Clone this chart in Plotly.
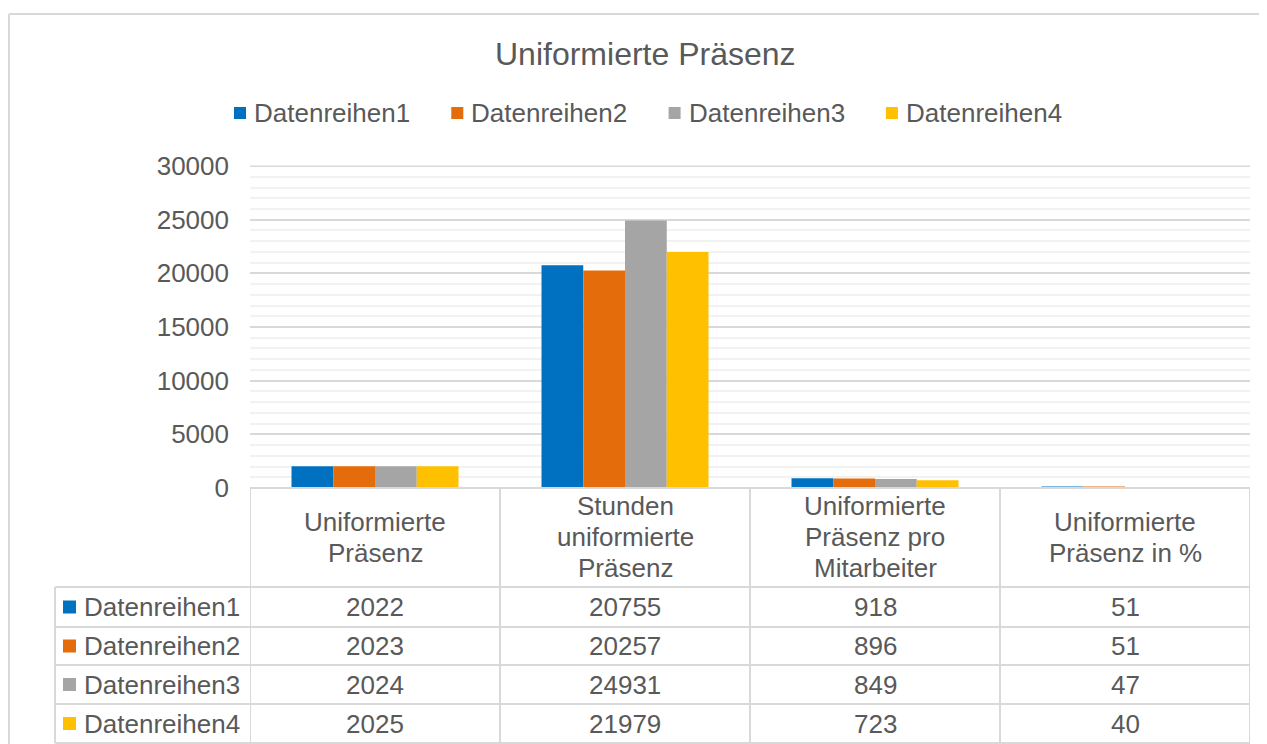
import plotly.graph_objects as go

# chart data
categories = [
    "Uniformierte Präsenz",
    "Stunden uniformierte Präsenz",
    "Uniformierte Präsenz pro Mitarbeiter",
    "Uniformierte Präsenz in %",
]
header_lines = [
    ["Uniformierte", "Präsenz"],
    ["Stunden", "uniformierte", "Präsenz"],
    ["Uniformierte", "Präsenz pro", "Mitarbeiter"],
    ["Uniformierte", "Präsenz in %"],
]
series_names = ["Datenreihen1", "Datenreihen2", "Datenreihen3", "Datenreihen4"]
reihe1 = [2022, 20755, 918, 51]
reihe2 = [2023, 20257, 896, 51]
reihe3 = [2024, 24931, 849, 47]
reihe4 = [2025, 21979, 723, 40]
series_values = [reihe1, reihe2, reihe3, reihe4]
colors = ["#0070C0", "#E46C0A", "#A5A5A5", "#FFC000"]
y_max = 30000

# page has an 8px body margin, so the figure is laid out in page pixels minus that
OFF = 8
W, H = 1267 - OFF, 744 - OFF
FONT = "Liberation Sans, Arial, sans-serif"
TEXT = "#595959"
GRID = "#D9D9D9"
MINOR = "#F2F2F2"


def px(p):
    return (p - OFF) / W


def py(p):
    return 1 - (p - OFF) / H


fig = go.Figure()
for name, vals, col in zip(series_names, series_values, colors):
    fig.add_trace(go.Bar(x=categories, y=vals, name=name, showlegend=False,
                         marker=dict(color=col, line=dict(width=0))))

shapes = []
annotations = []

# chart frame (top + left edge)
shapes.append(dict(type="line", xref="paper", yref="paper", x0=px(9), x1=1.01,
                   y0=py(14), y1=py(14), line=dict(color=GRID, width=2)))
shapes.append(dict(type="line", xref="paper", yref="paper", x0=px(9), x1=px(9),
                   y0=py(14), y1=-0.01, line=dict(color=GRID, width=2)))

# top major gridline at the end of the range
shapes.append(dict(type="line", xref="x", yref="y", x0=-0.5, x1=3.5, y0=y_max, y1=y_max,
                   line=dict(color=GRID, width=2), layer="below"))

# legend (drawn by hand to match spacing of the original)
leg_y = 113
for i, (name, col) in enumerate(zip(series_names, colors)):
    x0 = 234 + i * 217.3
    shapes.append(dict(type="rect", xref="paper", yref="paper", x0=px(x0), x1=px(x0 + 12),
                       y0=py(leg_y + 6), y1=py(leg_y - 6), fillcolor=col, line=dict(width=0)))
    annotations.append(dict(x=px(x0 + 18), xref="paper", yref="paper", y=py(leg_y), text=name,
                            showarrow=False, xanchor="left", yanchor="middle",
                            font=dict(family=FONT, size=26, color=TEXT)))

# data table geometry (page pixels)
plot_left, plot_right = 250, 1250
label_left = 55
header_top, header_bottom = 488, 587
row_edges = [587, 627, 665, 704, 743]

# horizontal table lines
shapes.append(dict(type="line", xref="paper", yref="paper", x0=px(plot_left), x1=px(plot_right),
                   y0=py(header_top), y1=py(header_top), line=dict(color=GRID, width=2)))
for yy in row_edges:
    shapes.append(dict(type="line", xref="paper", yref="paper", x0=px(label_left), x1=px(plot_right),
                       y0=py(yy), y1=py(yy), line=dict(color=GRID, width=2)))
# vertical table lines at category boundaries
for i in range(len(categories) + 1):
    shapes.append(dict(type="line", xref="x", yref="paper", x0=i - 0.5, x1=i - 0.5,
                       y0=py(header_top), y1=py(row_edges[-1]), line=dict(color=GRID, width=2)))
shapes.append(dict(type="line", xref="paper", yref="paper", x0=px(label_left), x1=px(label_left),
                   y0=py(row_edges[0]), y1=py(row_edges[-1]), line=dict(color=GRID, width=2)))

# header texts
hc = (header_top + header_bottom) / 2 - 0.5
for cat, lines in zip(categories, header_lines):
    n = len(lines)
    for k, t in enumerate(lines):
        annotations.append(dict(x=cat, xref="x", yref="paper", y=py(hc + (k - (n - 1) / 2) * 31),
                                text=t, showarrow=False, xanchor="center", yanchor="middle",
                                font=dict(family=FONT, size=26, color=TEXT)))

# rows: legend key + values
for r, (name, vals, col) in enumerate(zip(series_names, series_values, colors)):
    yc = (row_edges[r] + row_edges[r + 1]) / 2
    shapes.append(dict(type="rect", xref="paper", yref="paper", x0=px(63), x1=px(76),
                       y0=py(yc - 6.5), y1=py(yc + 6.5), fillcolor=col, line=dict(width=0)))
    annotations.append(dict(x=px(82), xref="paper", yref="paper", y=py(yc), text=name,
                            showarrow=False, xanchor="left", yanchor="middle",
                            font=dict(family=FONT, size=26, color=TEXT)))
    for cat, v in zip(categories, vals):
        annotations.append(dict(x=cat, xref="x", yref="paper", y=py(yc), text=str(v),
                                showarrow=False, xanchor="center", yanchor="middle",
                                font=dict(family=FONT, size=26, color=TEXT)))

# title
annotations.append(dict(x=px(645), xref="paper", yref="paper", y=py(54), text="Uniformierte Präsenz",
                        showarrow=False, xanchor="center", yanchor="middle",
                        font=dict(family=FONT, size=32, color=TEXT)))

fig.update_layout(
    width=W, height=H,
    margin=dict(l=0, r=0, t=0, b=0, autoexpand=False),
    paper_bgcolor="white", plot_bgcolor="white",
    barmode="group", bargap=0.332, bargroupgap=0,
    font=dict(family=FONT, size=26, color=TEXT),
    showlegend=False,
    xaxis=dict(domain=[px(plot_left), px(plot_right)], range=[-0.5, 3.5], automargin=False,
               showticklabels=False, showgrid=False, zeroline=False, showline=False, ticks=""),
    yaxis=dict(domain=[py(header_top), py(165.5)], range=[0, y_max + 50], dtick=5000, tickformat="d",
               automargin=False,
               showgrid=True, gridcolor=GRID, gridwidth=2, zeroline=False, showline=False,
               ticks="", ticklabelstandoff=20,
               tickfont=dict(family=FONT, size=26, color=TEXT),
               minor=dict(dtick=1000, showgrid=True, gridcolor=MINOR, gridwidth=2)),
    shapes=shapes,
    annotations=annotations,
)

fig.write_html("out.html")
